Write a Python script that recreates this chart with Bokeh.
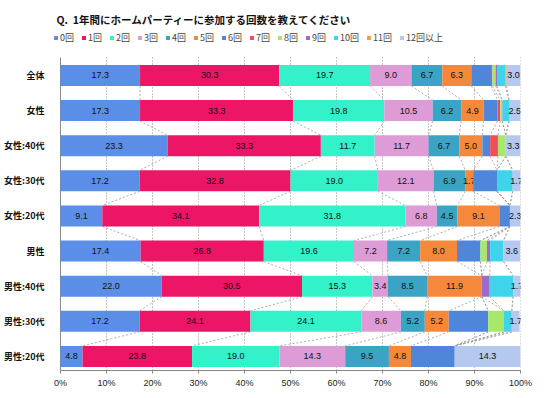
import numpy as np
from bokeh.plotting import figure
from bokeh.models import Range1d, FixedTicker, Legend, LegendItem, ColumnDataSource, Title
from bokeh.embed import file_html
from bokeh.resources import INLINE
from bokeh.core.properties import value

title_text = "Q.\u00a0\u00a01年間にホームパーティーに参加する回数を教えてください"
categories = ["全体", "女性", "女性:40代", "女性:30代", "女性:20代",
              "男性", "男性:40代", "男性:30代", "男性:20代"]
series = ["0回", "1回", "2回", "3回", "4回", "5回", "6回", "7回", "8回",
          "9回", "10回", "11回", "12回以上"]
v0 = [17.3, 17.3, 23.3, 17.2, 9.1, 17.4, 22.0, 17.2, 4.8]
v1 = [30.3, 33.3, 33.3, 32.8, 34.1, 26.8, 30.5, 24.1, 23.8]
v2 = [19.7, 19.8, 11.7, 19.0, 31.8, 19.6, 15.3, 24.1, 19.0]
v3 = [9.0, 10.5, 11.7, 12.1, 6.8, 7.2, 3.4, 8.6, 14.3]
v4 = [6.7, 6.2, 6.7, 6.9, 4.5, 7.2, 8.5, 5.2, 9.5]
v5 = [6.3, 4.9, 5.0, 1.7, 9.1, 8.0, 11.9, 5.2, 4.8]
v6 = [4.3, 3.0, 1.7, 5.2, 2.3, 5.1, 0.0, 8.6, 9.5]
v7 = [0.3, 0.6, 1.7, 0.0, 0.0, 0.0, 0.0, 0.0, 0.0]
v8 = [0.7, 0.4, 1.7, 0.0, 0.0, 1.4, 0.0, 3.4, 0.0]
v9 = [0.3, 0.1, 0.0, 0.0, 0.0, 0.7, 1.7, 0.0, 0.0]
v10 = [1.8, 1.4, 0.0, 3.4, 0.0, 2.9, 5.1, 1.7, 0.0]
v11 = [0.3, 0.0, 0.0, 0.0, 0.0, 0.0, 0.0, 0.0, 0.0]
v12 = [3.0, 2.5, 3.3, 1.7, 2.3, 3.6, 1.7, 1.7, 14.3]
values = [v0, v1, v2, v3, v4, v5, v6, v7, v8, v9, v10, v11, v12]
labeled_series = [0, 1, 2, 3, 4, 5, 12]
x_ticks = [0, 10, 20, 30, 40, 50, 60, 70, 80, 90, 100]

colors = ["#5B8EE6", "#EC1566", "#33F2C9", "#DE9CD6", "#3BA3C3", "#F5883A",
          "#4F86DA", "#F04E5A", "#A6E86A", "#9B6CC8", "#3DD4EC", "#F8A040",
          "#B4C8F0"]

n = len(categories)
ypos = [n - 1 - i for i in range(n)]
BAR_H = 0.6
Y_LO, Y_HI = -0.40, n - 1 + 0.51   # extent of the bar area
Y_TOP = Y_HI + 0.77                 # extra room inside frame for the legend
X_PAD = 1.735                       # small room left of 0% for the legend

p = figure(width=542, height=394, output_backend="svg", toolbar_location=None,
           x_range=Range1d(-X_PAD, 100), y_range=Range1d(Y_LO, Y_TOP),
           min_border_left=51, min_border_right=22, min_border_top=30,
           min_border_bottom=24)
p.outline_line_color = None
p.background_fill_color = "white"

# vertical dotted gridlines limited to the bar area
p.segment(x0=x_ticks[1:], y0=[Y_LO] * 10, x1=x_ticks[1:], y1=[Y_HI] * 10,
          line_color="#8a8a8a", line_width=1, line_dash="1 2", level="underlay")
# value axis line at 0%
p.segment(x0=[0], y0=[Y_LO], x1=[0], y1=[Y_HI], line_color="#888888",
          line_width=1)

# bars
cum_prev = np.zeros(n)
cums = []
items = []
for k, vals in enumerate(values):
    vals = np.array(vals)
    left = cum_prev.copy()
    right = cum_prev + vals
    src = ColumnDataSource(dict(y=ypos, left=left, right=right))
    r = p.hbar(y="y", left="left", right="right", height=BAR_H, source=src,
               fill_color=colors[k], line_color=None)
    items.append(LegendItem(label=series[k], renderers=[r]))
    cums.append(right)
    if k in labeled_series:
        mask = vals > 0
        tsrc = ColumnDataSource(dict(
            x=((left + right) / 2)[mask],
            y=np.array(ypos)[mask],
            t=["%.1f" % v for v in vals[mask]]))
        p.text(x="x", y="y", text="t", source=tsrc, text_align="center",
               text_baseline="middle", text_font_size="9px",
               text_font=value("Liberation Sans"), text_color="#111111")
    cum_prev = right

# series connector lines
x0s, y0s, x1s, y1s = [], [], [], []
for k in range(len(values) - 1):
    c = cums[k]
    for r in range(n - 1):
        x0s.append(c[r]); y0s.append(ypos[r] - BAR_H / 2)
        x1s.append(c[r + 1]); y1s.append(ypos[r + 1] + BAR_H / 2)
p.segment(x0=x0s, y0=y0s, x1=x1s, y1=y1s, line_color="#999999",
          line_width=0.8, line_dash="2 2", level="underlay")

# axes
p.xaxis.ticker = FixedTicker(ticks=x_ticks)
p.xaxis.bounds = (0, 100)
p.xaxis.major_label_overrides = {t: f"{t}%" for t in x_ticks}
p.xaxis.major_label_text_font = "Liberation Sans"
p.xaxis.major_label_text_font_size = "9px"
p.xaxis.major_label_text_color = "#222222"
p.xaxis.axis_line_color = "#888888"
p.xaxis.major_tick_line_color = "#888888"
p.xaxis.major_tick_out = 3
p.xaxis.major_tick_in = 0
p.xaxis.minor_tick_line_color = None
p.xaxis.major_label_standoff = 4

p.yaxis.ticker = FixedTicker(ticks=ypos)
p.yaxis.major_label_overrides = {y: c for y, c in zip(ypos, categories)}
p.yaxis.major_label_text_font = "Noto Sans CJK JP"
p.yaxis.major_label_text_font_style = "bold"
p.yaxis.major_label_text_font_size = "9px"
p.yaxis.major_label_text_color = "#111111"
p.yaxis.axis_line_color = None
p.yaxis.major_tick_line_color = None
p.yaxis.minor_tick_line_color = None
p.yaxis.major_label_standoff = 2

p.grid.grid_line_color = None

legend = Legend(items=items, orientation="horizontal", location=(1, 326),
                glyph_width=5, glyph_height=5, label_standoff=2, spacing=7,
                label_width=0, label_text_font="Noto Sans CJK JP",
                label_text_font_size="9px", label_height=10, padding=0,
                margin=0, border_line_color=None, background_fill_alpha=0)
p.add_layout(legend, "center")

p.add_layout(Title(text=title_text, align="left", text_font="Noto Sans CJK JP",
                   text_font_size="10.5px", text_font_style="bold",
                   text_color="#111111", standoff=8, offset=4), "above")

open("out.html", "w").write(file_html(p, INLINE))
